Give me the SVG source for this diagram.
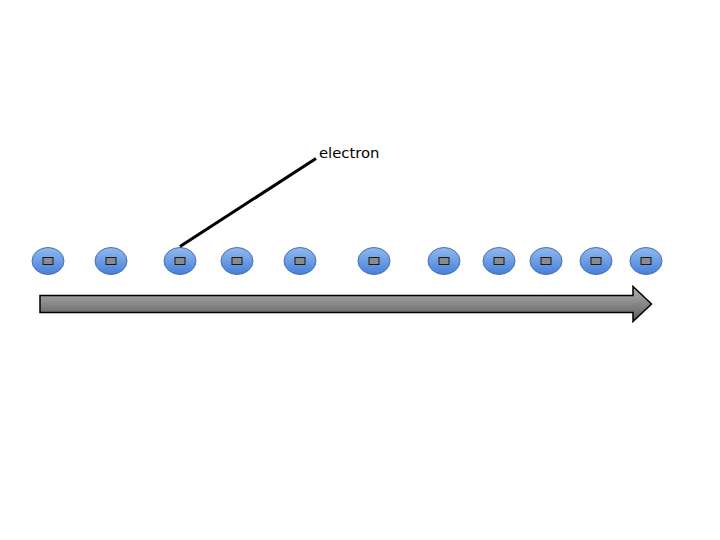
<svg xmlns="http://www.w3.org/2000/svg" width="720" height="540" viewBox="0 0 720 540">
<defs>
<linearGradient id="blue" x1="0" y1="0" x2="0" y2="1">
<stop offset="0" stop-color="#92b9f0"/>
<stop offset="1" stop-color="#4580d8"/>
</linearGradient>
<linearGradient id="gray" x1="0" y1="0" x2="0" y2="1">
<stop offset="0" stop-color="#b4b4b4"/>
<stop offset="1" stop-color="#5a5a5a"/>
</linearGradient>
<g id="atom">
<ellipse cx="0" cy="0" rx="16" ry="13.5" class="shell"/>
<rect x="-5" y="-3.5" width="10" height="7" class="core"/>
</g>
</defs>
<style>
.shell{fill:url(#blue);stroke:#4a6fb0;stroke-width:1}
.core{fill:#8a8a8a;stroke:#1a1a1a;stroke-width:1}
.lbl{font-family:"DejaVu Sans",sans-serif;font-size:14.8px;fill:#000}
</style>
<rect width="720" height="540" fill="#fff"/>
<g id="current-arrow">
<path d="M40,295.5 L633,295.5 L633,286.5 L651.5,304 L633,321.5 L633,312.5 L40,312.5 Z" fill="url(#gray)" stroke="#000" stroke-width="1.5" stroke-linejoin="miter"/>
</g>
<g id="atoms">
<g id="atom1"><use href="#atom" x="48" y="261"/></g>
<g id="atom2"><use href="#atom" x="111" y="261"/></g>
<g id="atom3"><use href="#atom" x="180" y="261"/></g>
<g id="atom4"><use href="#atom" x="237" y="261"/></g>
<g id="atom5"><use href="#atom" x="300" y="261"/></g>
<g id="atom6"><use href="#atom" x="374" y="261"/></g>
<g id="atom7"><use href="#atom" x="444" y="261"/></g>
<g id="atom8"><use href="#atom" x="499" y="261"/></g>
<g id="atom9"><use href="#atom" x="546" y="261"/></g>
<g id="atom10"><use href="#atom" x="596" y="261"/></g>
<g id="atom11"><use href="#atom" x="646" y="261"/></g>
</g>
<g id="connectors">
<line x1="180" y1="246.5" x2="316" y2="158.5" stroke="#000" stroke-width="3"/>
</g>
<g id="label">
<text x="319" y="158" class="lbl">electron</text>
</g>
</svg>
